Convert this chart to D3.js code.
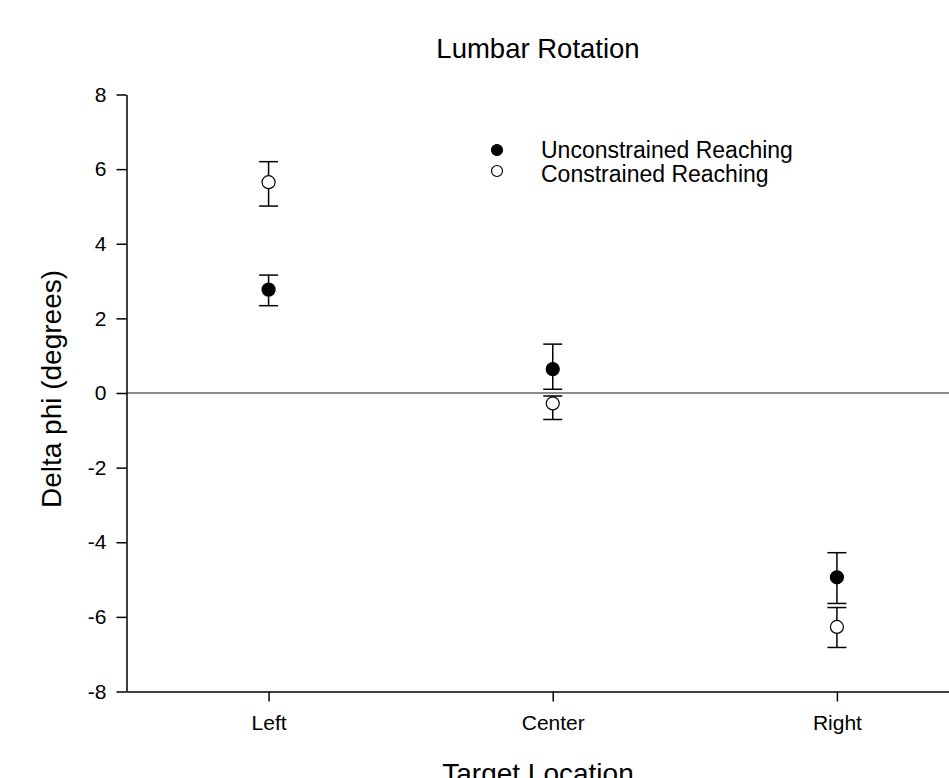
<!DOCTYPE html>
<html>
<head>
<meta charset="utf-8">
<script src="https://cdn.jsdelivr.net/npm/d3@7"></script>
<style>
  html, body { margin: 0; padding: 0; background: #fff; }
  svg { display: block; }
</style>
</head>
<body>
<div id="chart"></div>
<script>
/* Lumbar Rotation - error bar scatter */

const categories = ['Left', 'Center', 'Right'];
const yTicks = [-8, -6, -4, -2, 0, 2, 4, 6, 8];

// means and error bar bounds
const unconstrainedMean = [2.77, 0.64, -4.94];
const unconstrainedLow = [2.34, 0.10, -5.64];
const unconstrainedHigh = [3.16, 1.31, -4.28];

const constrainedMean = [5.65, -0.28, -6.27];
const constrainedLow = [5.01, -0.71, -6.82];
const constrainedHigh = [6.20, -0.08, -5.75];

const seriesNames = ['Unconstrained Reaching', 'Constrained Reaching'];

const cfg = {
  w: 949,
  h: 778,
  font: "Arial, 'Liberation Sans', sans-serif",
  r: 6.5,
  cap: 9.5,
};

const svg = d3.select('#chart')
  .append('svg')
  .attr('width', cfg.w)
  .attr('height', cfg.h);

const x = d3.scaleLinear().domain([0.5, 3.5]).range([126.5, 979]);
const y = d3.scaleLinear().domain([-8, 8]).range([691.5, 94.5]);

// zero reference line
svg.append('line')
  .attr('x1', x(0.5)).attr('x2', x(3.5))
  .attr('y1', y(0)).attr('y2', y(0))
  .attr('stroke', '#666').attr('stroke-width', 1.5);

// Y axis
svg.append('g')
  .attr('transform', `translate(${x(0.5)},0)`)
  .call(d3.axisLeft(y).tickValues(yTicks).tickFormat(d => String(d))
    .tickSize(10).tickPadding(10).tickSizeOuter(0))
  .call(g => g.select('.domain').attr('stroke', '#000').attr('stroke-width', 1.5))
  .call(g => g.selectAll('.tick line').attr('stroke', '#000').attr('stroke-width', 1.5))
  .call(g => g.selectAll('.tick text')
    .attr('fill', '#000')
    .attr('font-family', cfg.font)
    .attr('font-size', '21px'));

// X axis
svg.append('g')
  .attr('transform', `translate(0,${y(-8)})`)
  .call(d3.axisBottom(x).tickValues([1, 2, 3]).tickFormat((d, i) => categories[i])
    .tickSize(10).tickPadding(14).tickSizeOuter(0))
  .call(g => g.select('.domain').attr('stroke', '#000').attr('stroke-width', 1.5))
  .call(g => g.selectAll('.tick line').attr('stroke', '#000').attr('stroke-width', 1.5))
  .call(g => g.selectAll('.tick text')
    .attr('fill', '#000')
    .attr('font-family', cfg.font)
    .attr('font-size', '21px'));

// Error bars + markers
function drawSeries(mean, low, high, fill) {
  const g = svg.append('g');
  mean.forEach((m, i) => {
    const cx = x(i + 1);
    g.append('line')
      .attr('x1', cx).attr('x2', cx)
      .attr('y1', y(low[i])).attr('y2', y(high[i]))
      .attr('stroke', '#000').attr('stroke-width', 1.5);
    [low[i], high[i]].forEach(v => {
      g.append('line')
        .attr('x1', cx - cfg.cap).attr('x2', cx + cfg.cap)
        .attr('y1', y(v)).attr('y2', y(v))
        .attr('stroke', '#000').attr('stroke-width', 1.5);
    });
    g.append('circle')
      .attr('cx', cx).attr('cy', y(m))
      .attr('r', cfg.r)
      .attr('fill', fill)
      .attr('stroke', '#000').attr('stroke-width', 1.2);
  });
}

drawSeries(unconstrainedMean, unconstrainedLow, unconstrainedHigh, '#000');
drawSeries(constrainedMean, constrainedLow, constrainedHigh, '#fff');

// Legend
const legend = svg.append('g').attr('transform', 'translate(497,150)');
seriesNames.forEach((name, i) => {
  legend.append('circle')
    .attr('cy', i * 21)
    .attr('r', 5.5)
    .attr('fill', i === 0 ? '#000' : '#fff')
    .attr('stroke', '#000').attr('stroke-width', 1.2);
  legend.append('text')
    .attr('x', 44)
    .attr('y', 8 + i * 23.5)
    .attr('font-family', cfg.font)
    .attr('font-size', '23px')
    .attr('fill', '#000')
    .text(name);
});

// Title and axis labels
svg.append('text')
  .attr('x', 538).attr('y', 58)
  .attr('text-anchor', 'middle')
  .attr('font-family', cfg.font)
  .attr('font-size', '27.5px')
  .text('Lumbar Rotation');

svg.append('text')
  .attr('transform', 'translate(61,389) rotate(-90)')
  .attr('text-anchor', 'middle')
  .attr('font-family', cfg.font)
  .attr('font-size', '28px')
  .text('Delta phi (degrees)');

svg.append('text')
  .attr('x', 538).attr('y', 783)
  .attr('text-anchor', 'middle')
  .attr('font-family', cfg.font)
  .attr('font-size', '28px')
  .text('Target Location');
</script>
</body>
</html>
